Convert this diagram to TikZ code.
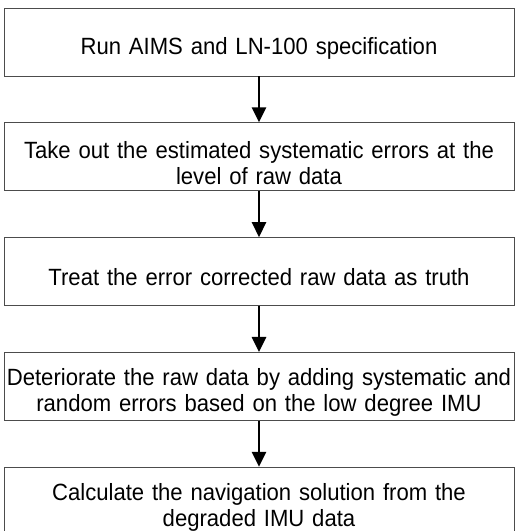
\documentclass[tikz,border=0pt]{standalone}
\usepackage{fontspec}
\setmainfont{Liberation Sans}[FakeStretch=0.94]
\usetikzlibrary{positioning,arrows.meta}

\tikzset{
  stepbox/.style={draw=black!70, line width=0.8pt, minimum width=506pt,
    minimum height=68pt, text width=510pt, inner xsep=0pt, align=center,
    font=\fontsize{23.5}{26}\selectfont,
    execute at begin node={\rule{0pt}{29pt}}},
  flow/.style={-{Triangle[length=15pt,width=14pt]}, line width=2.6pt}
}

\begin{document}
\begin{tikzpicture}[x=1pt,y=1pt,node distance=46pt]
  \useasboundingbox (0,0) rectangle (516,531);
  % steps
  \node[stepbox] (run) at (259,489) {Run AIMS and LN-100 specification};
  \node[stepbox, below=of run] (takeout) {Take out the estimated systematic errors at the\\ level of raw data};
  \node[stepbox, below=of takeout] (truth) {Treat the error corrected raw data as truth};
  \node[stepbox, below=of truth] (worsen) {Deteriorate the raw data by adding systematic and\\ random errors based on the low degree IMU};
  \node[stepbox, below=of worsen] (navsol) {Calculate the navigation solution from the\\ degraded IMU data};
  % arrows
  \draw[flow] (run) -- (takeout);
  \draw[flow] (takeout) -- (truth);
  \draw[flow] (truth) -- (worsen);
  \draw[flow] (worsen) -- (navsol);
\end{tikzpicture}
\end{document}
